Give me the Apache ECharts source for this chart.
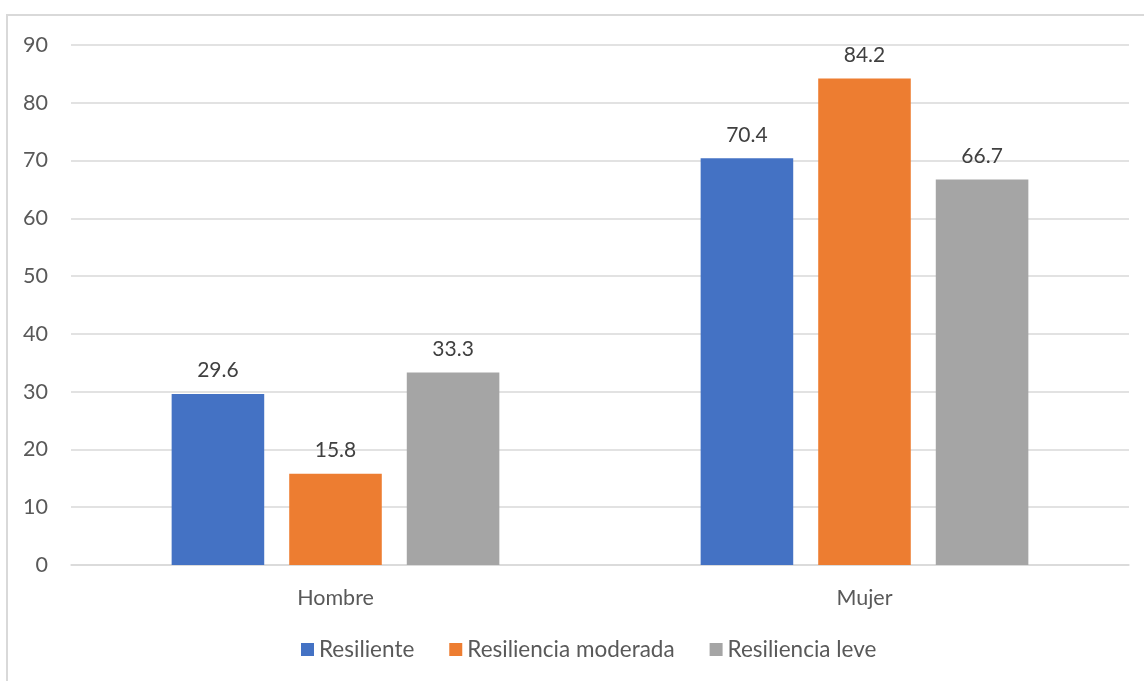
<!DOCTYPE html>
<html>
<head>
<meta charset="utf-8">
<script src="https://cdn.jsdelivr.net/npm/echarts@6/dist/echarts.min.js"></script>
<style>
  html, body { margin: 0; padding: 0; background: #ffffff; }
  #chart { width: 1144px; height: 681px; }
</style>
</head>
<body>
<div id="chart"></div>
<script>
// Categories and series values
const categories = ['Hombre', 'Mujer'];
const seriesNames = ['Resiliente', 'Resiliencia moderada', 'Resiliencia leve'];
const resiliente = [29.6, 70.4];
const resilienciaModerada = [15.8, 84.2];
const resilienciaLeve = [33.3, 66.7];
const seriesColors = ['#4472C4', '#ED7D31', '#A5A5A5'];

const FONT = 'Lato';
const chart = echarts.init(document.getElementById('chart'));

const valueSets = [resiliente, resilienciaModerada, resilienciaLeve];

chart.setOption({
  animation: false,
  textStyle: { fontFamily: FONT },
  graphic: [{
    type: 'rect',
    shape: { x: 7, y: 15, width: 1200, height: 700 },
    style: { fill: 'none', stroke: '#d9d9d9', lineWidth: 2 },
    silent: true
  }],
  grid: { left: 71, right: 15, top: 45, bottom: 116, containLabel: false },
  legend: {
    top: 633,
    left: 296,
    itemWidth: 13,
    itemHeight: 13,
    itemGap: 35,
    icon: 'rect',
    textStyle: { fontFamily: FONT, fontSize: 22.5, color: '#595959' },
    data: seriesNames
  },
  xAxis: {
    type: 'category',
    data: categories,
    axisLine: { show: true, lineStyle: { color: '#d9d9d9', width: 1.5 } },
    axisTick: { show: false },
    axisLabel: { fontFamily: FONT, fontSize: 21.5, color: '#595959', margin: 22 }
  },
  yAxis: {
    type: 'value',
    min: 0,
    max: 90,
    interval: 10,
    axisLine: { show: false },
    axisTick: { show: false },
    splitLine: { lineStyle: { color: '#d9d9d9', width: 1.5 } },
    axisLabel: { fontFamily: FONT, fontSize: 21.5, color: '#595959', margin: 23 }
  },
  series: valueSets.map((vals, i) => ({
    name: seriesNames[i],
    type: 'bar',
    data: vals,
    barWidth: '17.5%',
    barGap: '27%',
    itemStyle: { color: seriesColors[i] },
    label: {
      show: true,
      position: 'top',
      distance: 13,
      fontFamily: FONT,
      fontSize: 21,
      color: '#404040',
      formatter: p => p.value.toFixed(1)
    }
  }))
});
</script>
</body>
</html>
